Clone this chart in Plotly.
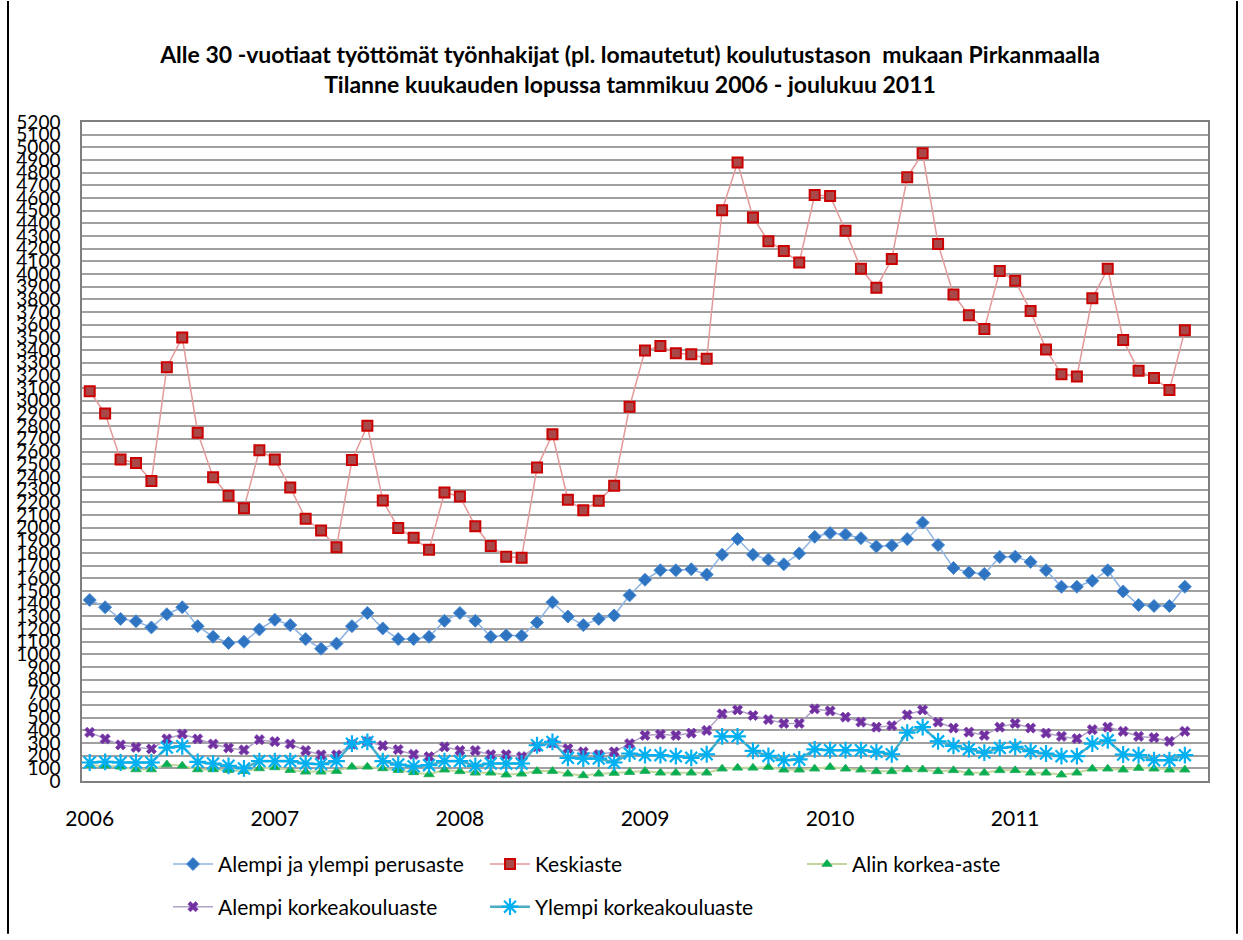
import plotly.graph_objects as go

# ---------------- data ----------------
years = ["2006", "2007", "2008", "2009", "2010", "2011"]

perusaste = [1428, 1371, 1279, 1261, 1212, 1316, 1371, 1222, 1138, 1089, 1099, 1196,
             1272, 1230, 1120, 1044, 1084, 1222, 1326, 1204, 1120, 1120, 1138, 1264,
             1326, 1264, 1138, 1149, 1146, 1251, 1410, 1298, 1230, 1279, 1306, 1465,
             1588, 1663, 1663, 1671, 1629, 1786, 1909, 1786, 1747, 1710, 1796, 1927,
             1956, 1945, 1916, 1851, 1859, 1909, 2039, 1862, 1681, 1645, 1634, 1768,
             1770, 1729, 1663, 1533, 1533, 1580, 1663, 1496, 1389, 1381, 1381, 1533]

keskiaste = [3075, 2900, 2537, 2510, 2367, 3265, 3500, 2748, 2397, 2250, 2153, 2610,
             2537, 2316, 2069, 1977, 1845, 2532, 2803, 2213, 1997, 1919, 1825, 2277,
             2245, 2010, 1854, 1770, 1762, 2473, 2736, 2219, 2136, 2211, 2329, 2953,
             3397, 3433, 3376, 3368, 3332, 4504, 4880, 4447, 4259, 4183, 4091, 4624,
             4616, 4342, 4042, 3893, 4118, 4765, 4953, 4238, 3838, 3676, 3567, 4024,
             3948, 3708, 3405, 3209, 3191, 3809, 4042, 3480, 3238, 3180, 3086, 3556]

alin_korkea = [125, 120, 112, 91, 91, 130, 120, 91, 91, 86, 78, 99,
               107, 86, 73, 73, 78, 112, 112, 99, 86, 68, 52, 89,
               76, 65, 65, 50, 57, 78, 78, 57, 44, 57, 63, 70,
               78, 65, 65, 65, 65, 97, 104, 104, 110, 89, 89, 97,
               110, 97, 89, 76, 76, 91, 91, 76, 84, 65, 65, 84,
               84, 65, 65, 50, 65, 97, 97, 89, 102, 97, 89, 89]

alempi_kk = [384, 332, 285, 266, 253, 332, 371, 332, 292, 261, 245, 326,
             311, 292, 240, 206, 206, 290, 311, 279, 248, 210, 192, 270,
             241, 240, 208, 208, 192, 270, 300, 256, 230, 209, 230, 295,
             360, 368, 360, 378, 399, 530, 561, 517, 485, 454, 454, 569,
             553, 504, 465, 425, 436, 522, 561, 465, 418, 386, 360, 425,
             454, 418, 378, 352, 334, 405, 425, 392, 352, 342, 313, 392]

ylempi_kk = [146, 151, 146, 146, 146, 264, 274, 151, 138, 120, 99, 157,
             157, 157, 138, 133, 157, 295, 308, 157, 130, 116, 125, 157,
             157, 120, 138, 138, 138, 282, 308, 183, 177, 177, 146, 217,
             204, 204, 196, 183, 211, 352, 352, 238, 198, 164, 170, 250,
             243, 243, 243, 230, 211, 381, 425, 313, 277, 251, 224, 261,
             269, 235, 217, 196, 196, 295, 321, 209, 204, 164, 164, 204]

series_names = ["Alempi ja ylempi perusaste", "Keskiaste", "Alin korkea-aste",
                "Alempi korkeakouluaste", "Ylempi korkeakouluaste"]

title_lines = ["Alle 30 -vuotiaat työttömät työnhakijat (pl. lomautetut) koulutustason  mukaan Pirkanmaalla",
               "Tilanne kuukauden lopussa tammikuu 2006 - joulukuu 2011"]

# ---------------- figure ----------------
n = len(perusaste)
x = list(range(n))
FONT = "Lato, 'Open Sans', sans-serif"

fig = go.Figure()

fig.add_trace(go.Scatter(
    x=x, y=perusaste, name=series_names[0], mode="lines+markers", legend="legend",
    line=dict(color="#8DB3E2", width=1.5),
    marker=dict(symbol="diamond", size=10, color="#2F74C0",
                line=dict(color="#4F8FD6", width=1))))

fig.add_trace(go.Scatter(
    x=x, y=keskiaste, name=series_names[1], mode="lines+markers", legend="legend",
    line=dict(color="#E39A9A", width=1.5),
    marker=dict(symbol="square", size=10, color="#A84848",
                line=dict(color="#CC0000", width=2))))

fig.add_trace(go.Scatter(
    x=x, y=alin_korkea, name=series_names[2], mode="lines+markers", legend="legend",
    line=dict(color="#C3D69B", width=2),
    marker=dict(symbol="triangle-up", size=9, color="#00B050",
                line=dict(color="#2FB060", width=1))))

fig.add_trace(go.Scatter(
    x=x, y=alempi_kk, name=series_names[3], mode="lines+markers", legend="legend2",
    line=dict(color="#B3A2C7", width=1.5),
    marker=dict(symbol="x", size=9, color="#7030A0",
                line=dict(color="#7F45B0", width=0.8))))

fig.add_trace(go.Scatter(
    x=x, y=ylempi_kk, name=series_names[4], mode="lines+markers", legend="legend2",
    line=dict(color="#4BACC6", width=2.5),
    marker=dict(symbol="asterisk-open", size=14, color="#00B0F0",
                line=dict(color="#00B0F0", width=2.2))))

L, R, T, B = 82, 35, 122, 154
W, H = 1243, 940
pw = W - L - R
ph = H - T - B


def px_x(p):
    return (p - L) / pw


def px_y(p):
    return (H - B - p) / ph


legend_common = dict(
    orientation="h", xanchor="left", yanchor="middle",
    font=dict(family=FONT, size=21, color="#000000"),
    bgcolor="rgba(0,0,0,0)", entrywidth=262, entrywidthmode="pixels",
    itemwidth=40, tracegroupgap=0,
)

fig.update_layout(
    width=W, height=H,
    margin=dict(l=L, r=R, t=T, b=B, pad=0),
    paper_bgcolor="white", plot_bgcolor="white",
    font=dict(family=FONT, color="#000000"),
    title=dict(
        text="<b>" + title_lines[0] + "</b><br><b>" + title_lines[1] + "</b>",
        x=630 / W, xref="container", xanchor="center",
        y=1 - 63 / H, yanchor="middle",
        font=dict(family=FONT, size=23, color="#000000"),
    ),
    showlegend=True,
    legend=dict(x=px_x(168), y=px_y(870), **legend_common),
    legend2=dict(x=px_x(168), y=px_y(913), **legend_common),
    xaxis=dict(
        range=[-0.5, n + 0.5],
        tickmode="array",
        tickvals=[12 * k for k in range(len(years))],
        ticktext=years,
        showgrid=False, zeroline=False,
        showline=True, linecolor="#7F7F7F", linewidth=1.5, mirror=True,
        ticks="", ticklabelstandoff=18,
        tickfont=dict(family=FONT, size=21, color="#000000"),
    ),
    yaxis=dict(
        range=[0, 5200], dtick=100, tick0=0,
        showgrid=True, gridcolor="#A0A0A0", gridwidth=1.5,
        zeroline=False,
        showline=True, linecolor="#7F7F7F", linewidth=1.5, mirror=True,
        ticks="", ticklabelstandoff=16,
        tickfont=dict(family=FONT, size=19, color="#000000"),
    ),
    shapes=[
        dict(type="line", xref="paper", yref="paper",
             x0=px_x(8), x1=px_x(8), y0=px_y(0), y1=px_y(H), line=dict(color="#000000", width=2)),
        dict(type="line", xref="paper", yref="paper",
             x0=px_x(1237), x1=px_x(1237), y0=px_y(0), y1=px_y(H), line=dict(color="#000000", width=2)),
    ],
)

fig.write_html(
    "out.html",
    config={"displayModeBar": False},
    post_script="document.body.style.margin='0px';document.body.style.overflow='hidden';",
)
